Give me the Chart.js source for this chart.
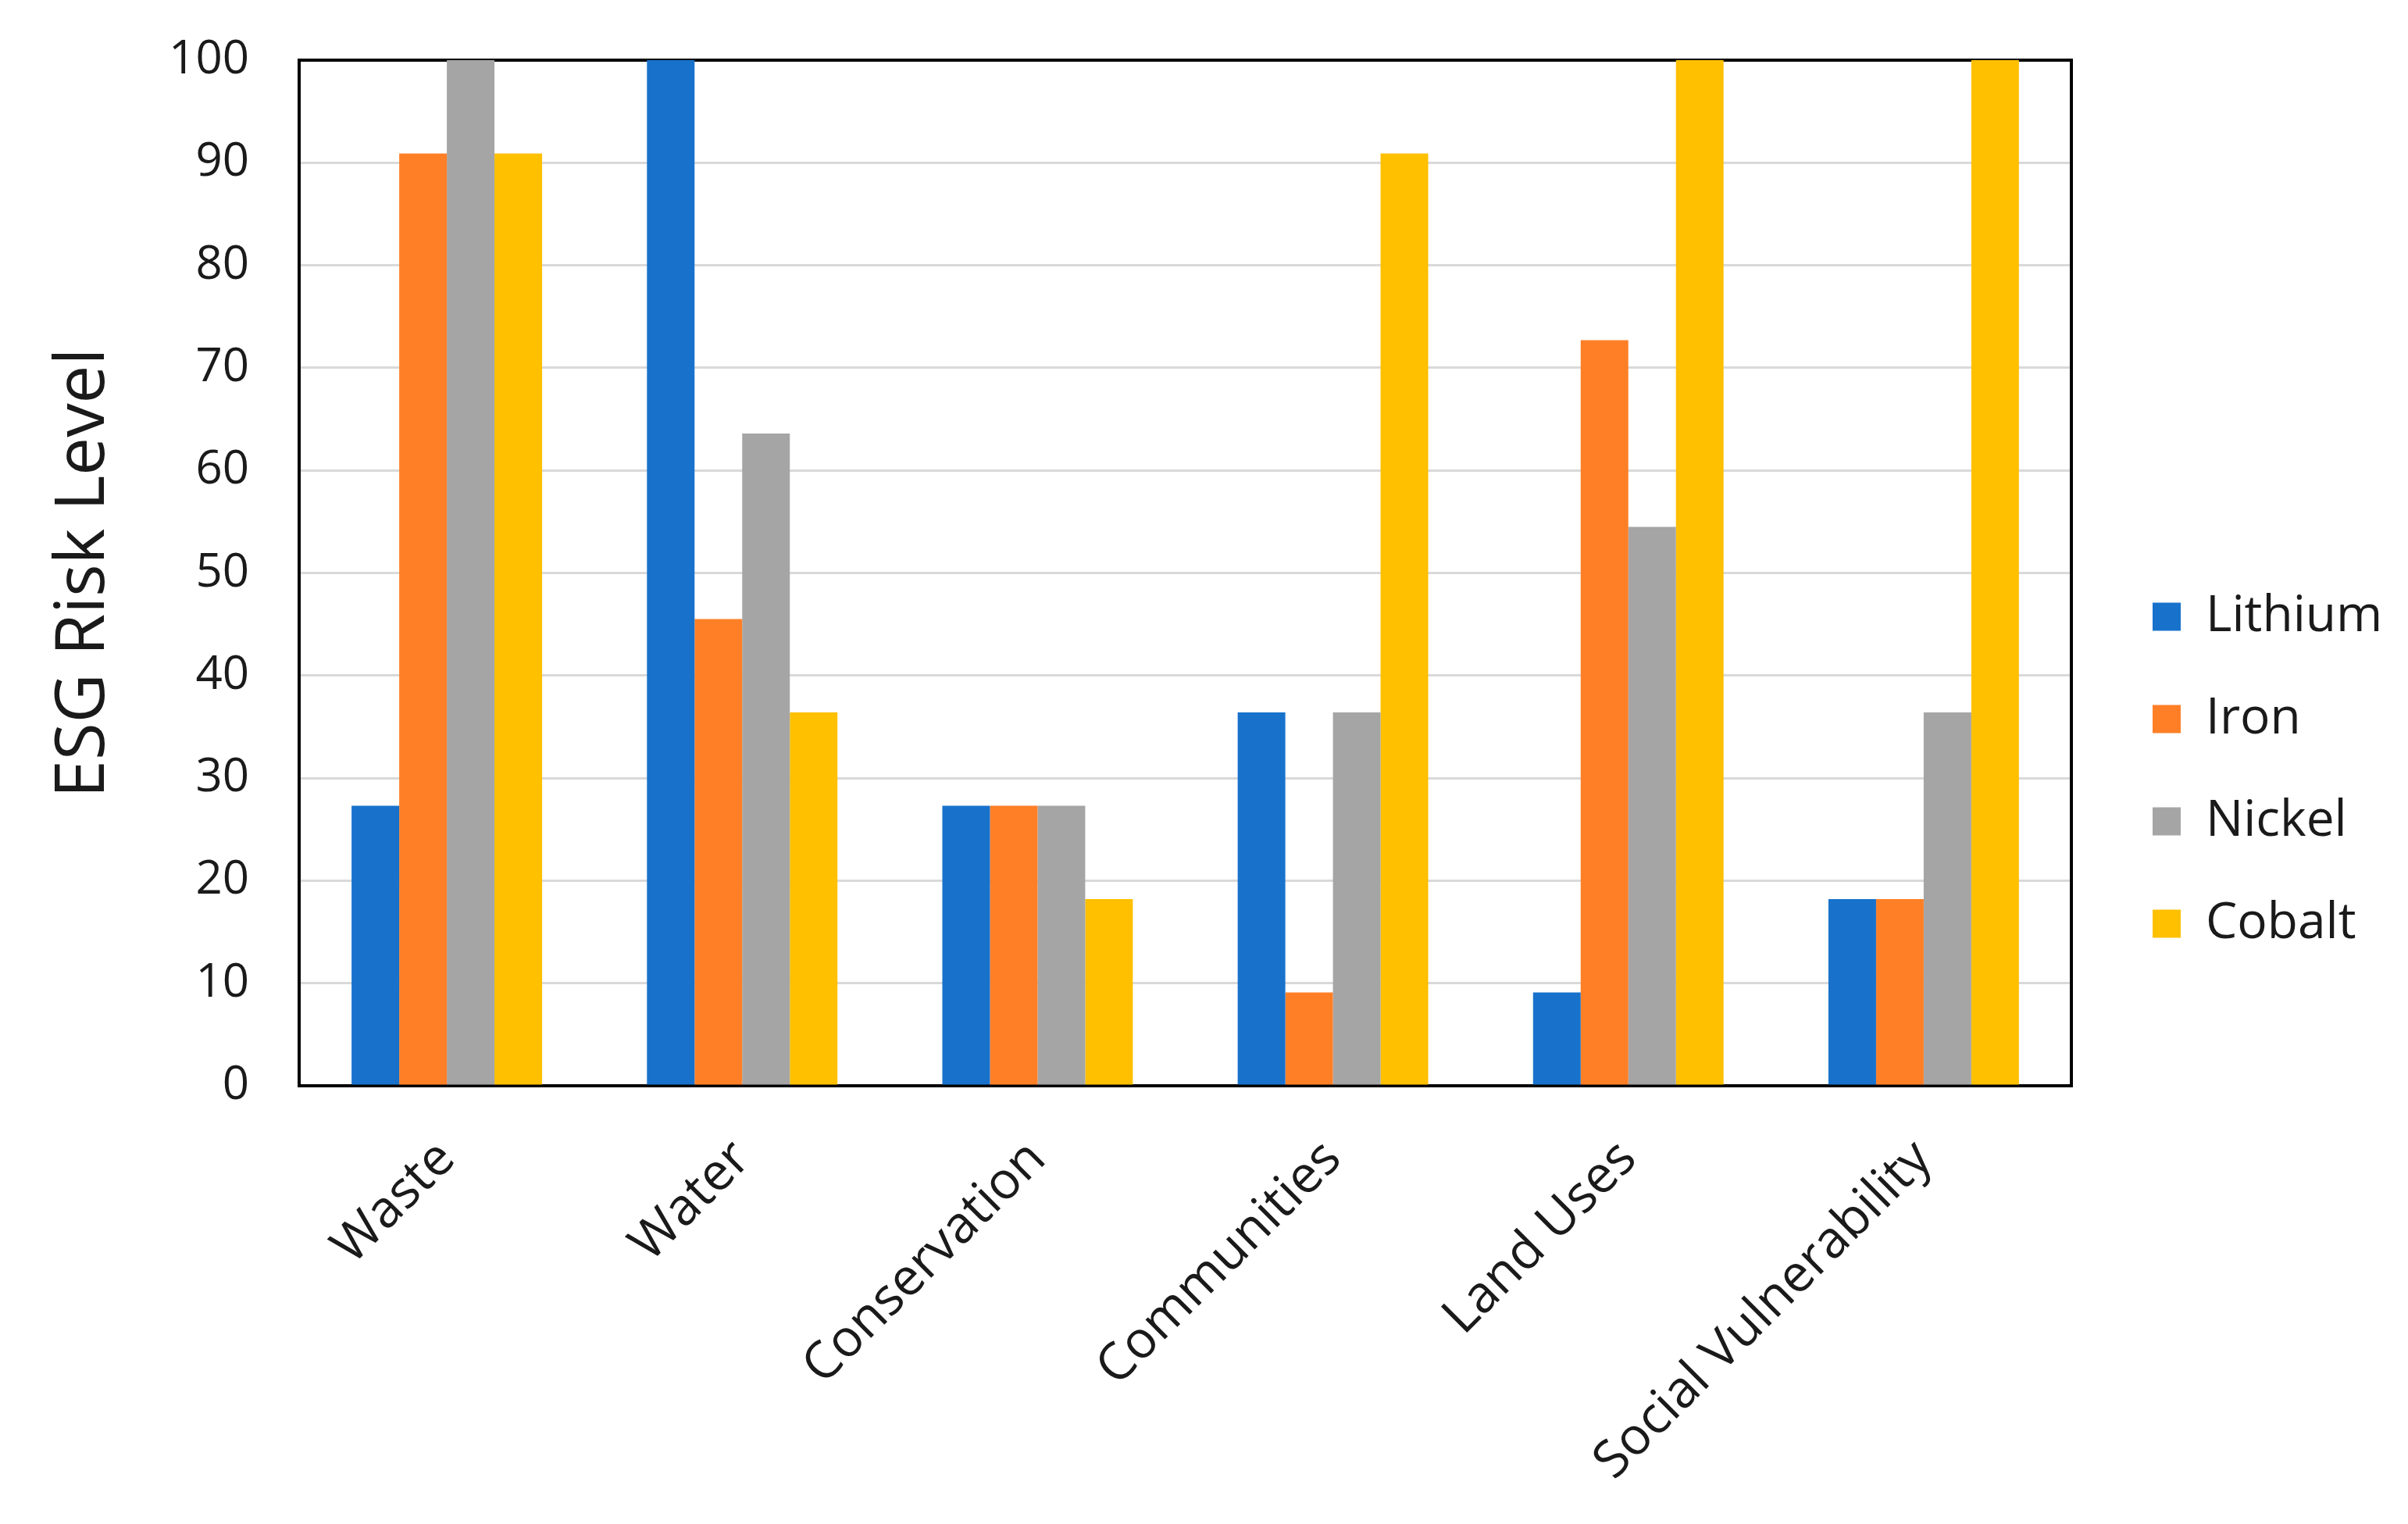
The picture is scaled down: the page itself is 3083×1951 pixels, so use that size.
<!DOCTYPE html>
<html>
<head>
<meta charset="utf-8">
<script src="https://cdn.jsdelivr.net/npm/chart.js@4/dist/chart.umd.min.js"></script>
<style>
  body { margin: 0; background: #fff; }
  canvas { display: block; }
</style>
</head>
<body>
<canvas id="graph" width="3083" height="1951"></canvas>
<script>
// values (steps of roughly 100/11)
var categories = ["Waste", "Water", "Conservation", "Communities", "Land Uses", "Social Vulnerability"];
var seriesNames = ["Lithium", "Iron", "Nickel", "Cobalt"];
var lithium = [27.3, 100, 27.3, 36.4, 9.1, 18.2];
var iron = [90.9, 45.5, 27.3, 9.1, 72.7, 18.2];
var nickel = [100, 63.6, 27.3, 36.4, 54.5, 36.4];
var cobalt = [90.9, 36.4, 18.2, 90.9, 100, 100];
var seriesColors = ["#1872CC", "#FF7F27", "#A5A5A5", "#FFC000"];
var yTicks = [0, 10, 20, 30, 40, 50, 60, 70, 80, 90, 100];

var fontFamily = "'Open Sans', sans-serif";
var textColor = "#1a1a1a";

// draws the black frame round the plot area, under the bars
const frame = {
    id: 'frame',
    beforeDatasetsDraw(chart) {
        const a = chart.chartArea;
        const ctx = chart.ctx;
        ctx.save();
        ctx.strokeStyle = '#000';
        ctx.lineWidth = 4;
        ctx.strokeRect(a.left, a.top, a.right - a.left, a.bottom - a.top);
        ctx.restore();
    }
};

// fixes the legend width and nudges its items
const legendFix = {
    id: 'legendFix',
    afterInit(chart) {
        const lg = chart.legend;
        const fit = lg.fit;
        lg.fit = function () {
            fit.call(this);
            this.width = 431;
        };
        const draw = lg.draw;
        lg.draw = function () {
            chart.ctx.save();
            chart.ctx.translate(37, -28);
            draw.apply(this, arguments);
            chart.ctx.restore();
        };
    }
};

document.addEventListener('DOMContentLoaded', function () {
    const seriesData = [lithium, iron, nickel, cobalt];
    const datasets = seriesNames.map(function (name, i) {
        return {
            label: name,
            data: seriesData[i],
            backgroundColor: seriesColors[i],
            borderWidth: 0,
            categoryPercentage: 0.645,
            barPercentage: 1.0
        };
    });

    const chartCtx = document.getElementById('graph').getContext('2d');

    new Chart(chartCtx, {
        type: 'bar',
        data: {
            labels: categories,
            datasets: datasets
        },
        options: {
            responsive: false,
            animation: false,
            layout: {
                padding: { top: 77, left: 0, right: 0, bottom: 0 }
            },
            plugins: {
                tooltip: { enabled: false },
                legend: {
                    position: 'right',
                    labels: {
                        boxWidth: 36,
                        boxHeight: 36,
                        padding: 67,
                        color: textColor,
                        font: { family: fontFamily, size: 64 }
                    }
                }
            },
            scales: {
                x: {
                    grid: { display: false, drawTicks: false },
                    border: { display: false },
                    ticks: {
                        color: textColor,
                        font: { family: fontFamily, size: 66 },
                        minRotation: 45,
                        maxRotation: 45,
                        padding: 55
                    },
                    afterFit: function (axis) { axis.height = 561; }
                },
                y: {
                    min: 0,
                    max: 100,
                    grid: {
                        color: '#d9d9d9',
                        lineWidth: 3,
                        drawTicks: true,
                        tickLength: 64,
                        tickColor: 'rgba(0,0,0,0)'
                    },
                    border: { display: false },
                    afterBuildTicks: function (axis) {
                        axis.ticks = yTicks.map(function (v) { return { value: v }; });
                    },
                    ticks: {
                        color: textColor,
                        font: { family: fontFamily, size: 60 },
                        padding: 0
                    },
                    title: {
                        display: true,
                        text: 'ESG Risk Level',
                        color: textColor,
                        font: { family: fontFamily, size: 87 },
                        padding: { top: 56, bottom: 0 }
                    },
                    afterFit: function (axis) { axis.width = 383; }
                }
            }
        },
        plugins: [frame, legendFix]
    });
});
</script>
</body>
</html>
